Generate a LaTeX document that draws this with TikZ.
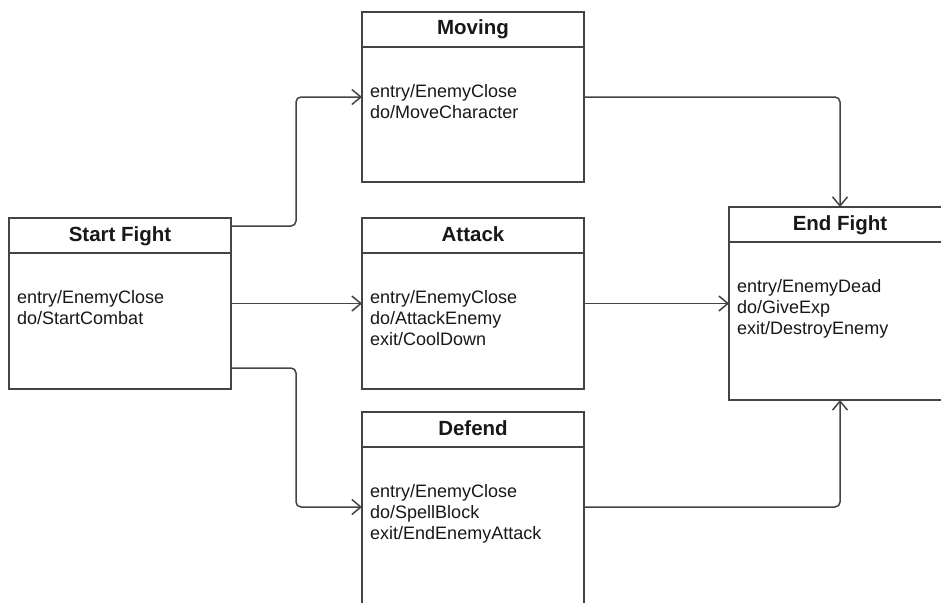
\documentclass[tikz,border=0pt]{standalone}
\usepackage{fontspec}
\setmainfont{Liberation Sans}
\usetikzlibrary{arrows.meta}
\definecolor{edgegray}{RGB}{68,68,68}
\definecolor{inkdark}{RGB}{24,24,24}
\tikzset{
  statebox/.style={rectangle, anchor=north west, inner sep=0pt, outer sep=0pt},
  outline/.style={draw=edgegray, line width=1.5pt},
  statetitle/.style={anchor=base, inner sep=0pt, text=inkdark,
    font=\fontsize{20.5}{24}\selectfont\bfseries},
  statebody/.style={anchor=north west, inner sep=0pt, align=left, text=inkdark,
    font=\fontsize{18}{21}\selectfont},
  divider/.style={draw=edgegray, line width=1.5pt},
  flow/.style={draw=edgegray, line width=1.5pt, rounded corners=5pt,
    -{Straight Barb[length=9pt,width=15pt,line width=1.5pt]}}
}
% A state box: the frame is drawn as an open path (top, left side, bottom,
% right side) so that boxes running past the page edge leave no stray stroke.
\newcommand{\umlstate}[7]{%
  % #1 name, #2 top-left corner, #3 width, #4 height, #5 title, #6 activities,
  % #7 depth below the top edge where side connectors attach
  \node[statebox, minimum width=#3pt, minimum height=#4pt] (#1) at #2 {};
  \draw[divider] ([yshift=-35pt]#1.north west) -- ([yshift=-35pt]#1.north east);
  \node[statetitle] (#1-title) at ([xshift=111pt,yshift=-23pt]#1.north west) {#5};
  \node[statebody] (#1-body) at ([xshift=8pt,yshift=-72pt]#1.north west) {#6};
  \coordinate (#1-in) at ([yshift=-#7pt]#1.north west);
  \coordinate (#1-out) at ([yshift=-#7pt]#1.north east);
}
\begin{document}
\begin{tikzpicture}[x=1pt,y=-1pt]
  \useasboundingbox (0,0) rectangle (941,602);
  \fill[white] (0,0) rectangle (941,602);
  \clip (0,0) rectangle (941,602);

  \umlstate{sf}{(9,218)}{222}{171}{Start Fight}{entry/EnemyClose\\do/StartCombat}{85.5}
  \umlstate{mv}{(362,12)}{222}{170}{Moving}{entry/EnemyClose\\do/MoveCharacter}{85}
  \umlstate{at}{(362,218)}{222}{171}{Attack}{entry/EnemyClose\\do/AttackEnemy\\exit/CoolDown}{85.5}
  \umlstate{df}{(362,412)}{222}{230}{Defend}{entry/EnemyClose\\do/SpellBlock\\exit/EndEnemyAttack}{95}
  \umlstate{ef}{(729,207)}{260}{193}{End Fight}{entry/EnemyDead\\do/GiveExp\\exit/DestroyEnemy}{96.5}

  % frames of the five states
  \draw[outline] (sf.north west) rectangle (sf.south east);
  \draw[outline] (mv.north west) rectangle (mv.south east);
  \draw[outline] (at.north west) rectangle (at.south east);
  \draw[outline] (df.south west) -- (df.north west) -- (df.north east) -- (df.south east);
  \draw[outline] (ef.north east) -- (ef.north west) -- (ef.south west) -- (ef.south east);

  % routing column between the start state and the middle states
  \coordinate (split) at (296,0);
  \coordinate (ef-top) at ([xshift=111pt]ef.north west);
  \coordinate (ef-bottom) at ([xshift=111pt]ef.south west);

  \draw[flow] ([yshift=-8pt]sf.north east) -| (split |- mv-in) -- (mv-in);
  \draw[flow] (sf-out) -- (at-in);
  \draw[flow] ([yshift=21pt]sf.south east) -| (split |- df-in) -- (df-in);

  \draw[flow] (mv-out) -| (ef-top);
  \draw[flow] (at-out) -- (ef-in);
  \draw[flow] (df-out) -| (ef-bottom);
\end{tikzpicture}
\end{document}
